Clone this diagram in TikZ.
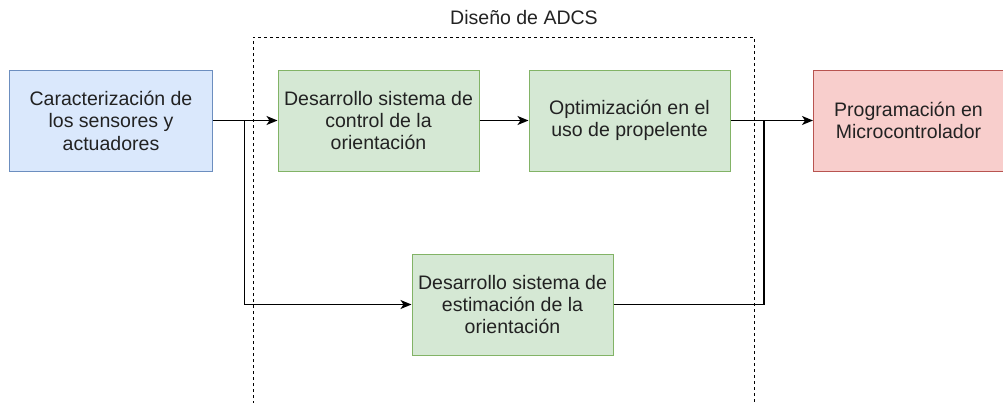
\documentclass[tikz,border=0pt]{standalone}
\usepackage{fontspec}
\setmainfont{Liberation Sans}
\usetikzlibrary{arrows.meta}
\definecolor{bluefill}{HTML}{DAE8FC}
\definecolor{bluedraw}{HTML}{6C8EBF}
\definecolor{greenfill}{HTML}{D5E8D4}
\definecolor{greendraw}{HTML}{82B366}
\definecolor{redfill}{HTML}{F8CECC}
\definecolor{reddraw}{HTML}{B85450}
\definecolor{txt}{HTML}{222222}
\tikzset{
  box/.style={rectangle, line width=1bp, minimum height=101bp, align=center,
    inner sep=0pt, font=\fontsize{19.6}{22.5}\selectfont, text=txt},
  bluebox/.style={box, fill=bluefill, draw=bluedraw, minimum width=202bp},
  greenbox/.style={box, fill=greenfill, draw=greendraw, minimum width=201bp},
  redbox/.style={box, fill=redfill, draw=reddraw, minimum width=190bp},
  conn/.style={line width=1.3bp, draw=black},
  arr/.style={conn, -{Stealth[length=11bp,width=9bp,inset=3bp]}},
  frame/.style={line width=1bp, dash pattern=on 3bp off 3bp}
}
\begin{document}
\begin{tikzpicture}[x=1bp,y=-1bp]
\useasboundingbox (0,0) rectangle (1003,402);
\begin{scope}
\clip (0,0) rectangle (1003,402);
\draw[frame] (253,410) -- (253,37) -- (754,37) -- (754,410);
\node[redbox] (red) at (908.5,120.5) {Programación en\\Microcontrolador};
\end{scope}
\node[font=\fontsize{19.6}{22}\selectfont, text=txt] (title) at (524,18) {Diseño de ADCS};
\node[bluebox] (blue) at (111,120.5) {Caracterización de\\los sensores y\\actuadores};
\node[greenbox] (g1) at (378.5,120.5) {Desarrollo sistema de\\control de la\\orientación};
\node[greenbox] (g2) at (629.5,120.5) {Optimización en el\\uso de propelente};
\node[greenbox] (g3) at (512.5,304.5) {Desarrollo sistema de\\estimación de la\\orientación};
\coordinate (split) at (244.5,120.5);
\coordinate (join) at (764,120.5);
\draw[arr] (blue.east) -- (g1.west);
\draw[arr] (split) |- (g3.west);
\draw[arr] (g1.east) -- (g2.west);
\draw[arr] (g2.east) -- (red.west);
\draw[conn] (g3.east) -| (join);
\end{tikzpicture}
\end{document}
